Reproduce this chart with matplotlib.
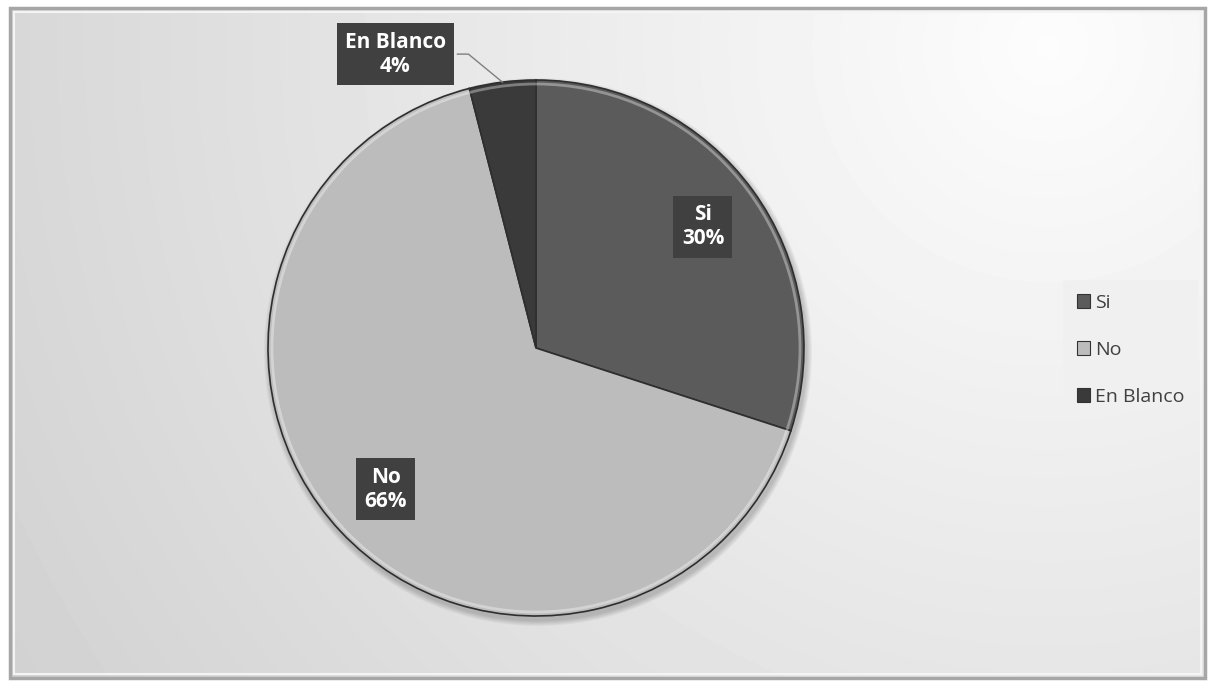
import matplotlib.pyplot as plt
import numpy as np
from matplotlib.patches import Rectangle, Circle, Patch

# data
categories = ['Si', 'No', 'En Blanco']
values = [30, 66, 4]
colors = ['#5b5b5b', '#bcbcbc', '#3a3a3a']

plt.rcParams['font.family'] = ['Open Sans', 'DejaVu Sans']

W, H = 1213, 685
fig = plt.figure(figsize=(W / 100, H / 100), dpi=100)
ax = fig.add_axes([0, 0, 1, 1])
ax.set_xlim(0, W)
ax.set_ylim(0, H)
ax.set_aspect('equal')
ax.axis('off')

# background: soft radial gradient inside a framed box
x0, y0, x1, y1 = 10, 7, 1205, 677
gx, gy = np.meshgrid(np.linspace(x0, x1, 300), np.linspace(y0, y1, 200))
d = np.sqrt((gx - 1050) ** 2 + (gy - 640) ** 2) / 1150
bg = np.clip(0.99 - 0.16 * d, 0, 1)
ax.imshow(bg, cmap='gray', vmin=0, vmax=1, extent=[x0, x1, y0, y1],
          origin='lower', zorder=0, interpolation='bilinear')
ax.add_patch(Rectangle((x0, y0), x1 - x0, y1 - y0, fill=False,
                       edgecolor='#a6a6a6', lw=2.5, zorder=1))
ax.add_patch(Rectangle((x0 + 4, y0 + 4), x1 - x0 - 8, y1 - y0 - 8, fill=False,
                       edgecolor='#f4f4f4', lw=1.5, zorder=1))

cx, cy, r = 536, 337, 268

# soft shadow behind the pie
for k in range(6):
    ax.add_patch(Circle((cx + 2, cy - 4), r + 6 - k, facecolor='#000000',
                        alpha=0.035, lw=0, zorder=2))

wedges, _ = ax.pie(values, colors=colors, startangle=90, counterclock=False,
                   center=(cx, cy), radius=r, frame=True,
                   wedgeprops=dict(edgecolor='#2e2e2e', linewidth=1.2))
for w in wedges:
    w.set_zorder(3)
ax.set_xlim(0, W)
ax.set_ylim(0, H)
ax.axis('off')

# light bevel ring
ax.add_patch(Circle((cx, cy), r - 4, fill=False, edgecolor='white',
                    alpha=0.35, lw=2, zorder=4))

box = dict(boxstyle='square,pad=0.4', facecolor='#404040', edgecolor='none')
for i, w in enumerate(wedges):
    theta = np.deg2rad((w.theta1 + w.theta2) / 2)
    txt = f'{categories[i]}\n{values[i]}%'
    if values[i] > 10:
        lx = cx + 0.77 * r * np.cos(theta)
        ly = cy + 0.77 * r * np.sin(theta)
        ax.text(lx, ly, txt, ha='center', va='center', color='white',
                fontsize=15, fontweight='bold', linespacing=1.2,
                bbox=box, zorder=6)
    else:
        ex = cx + r * np.cos(theta)
        ey = cy + r * np.sin(theta)
        tx, ty = ex - 107, ey + 28
        ax.plot([ex, ex - 34, tx + 62], [ey, ey + 28, ey + 28],
                color='#7f7f7f', lw=1, zorder=5)
        ax.text(tx, ty, txt, ha='center', va='center', color='white',
                fontsize=15, fontweight='bold', linespacing=1.2,
                bbox=box, zorder=6)

handles = [Patch(facecolor=c, edgecolor='#333333', lw=0.8) for c in colors]
leg = fig.legend(handles, categories, loc='upper left',
                 bbox_to_anchor=(1063 / W, 1 - 280 / H), frameon=True,
                 fontsize=14, handlelength=0.7, handleheight=0.7,
                 handletextpad=0.25, labelspacing=1.5, borderpad=0.7,
                 borderaxespad=0)
leg.get_frame().set_facecolor('#f0f0f0')
leg.get_frame().set_edgecolor('none')
leg.get_frame().set_alpha(0.8)
leg.get_frame().set_boxstyle('square', pad=0)
for t in leg.get_texts():
    t.set_color('#404040')

fig.savefig('out.png', dpi=100)
